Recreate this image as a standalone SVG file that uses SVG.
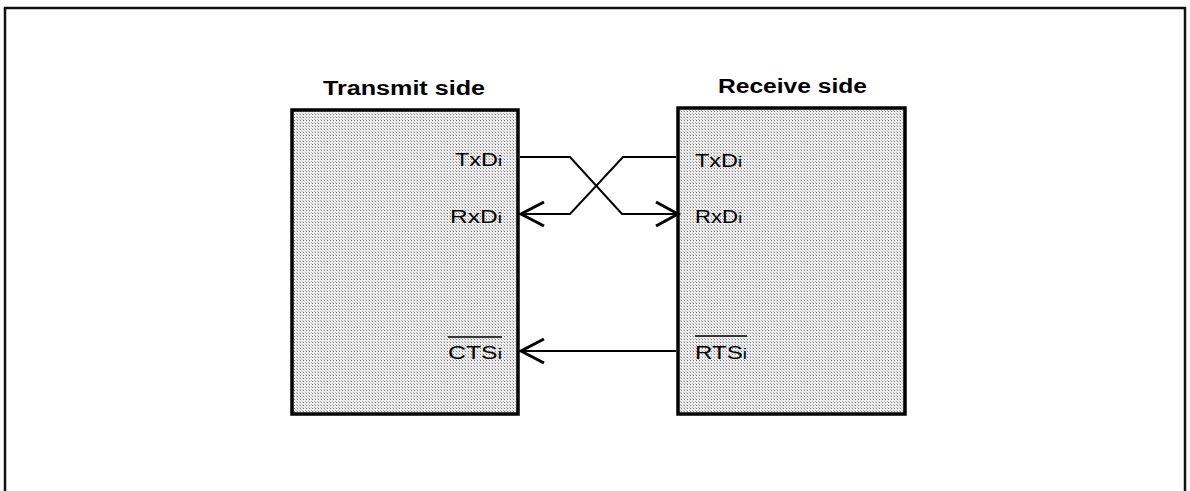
<svg xmlns="http://www.w3.org/2000/svg" width="1190" height="491" viewBox="0 0 1190 491">
<defs>
<pattern id="dots" width="3" height="3" patternUnits="userSpaceOnUse">
<rect width="3" height="3" fill="#ededed"/>
<rect x="0" y="0" width="1" height="1" fill="#7a7a7a"/>
<rect x="2" y="2" width="1" height="1" fill="#b8b8b8"/>
</pattern>
</defs>
<style>
.frame{fill:none;stroke:#111;stroke-width:2.5}
.box{fill:url(#dots);stroke:#000;stroke-width:3.5}
.title{font-family:"Liberation Sans",Arial,sans-serif;font-weight:bold;font-size:20px;fill:#000}
.lbl{font-family:"Liberation Sans",Arial,sans-serif;font-size:18px;fill:#000}
.sub{font-size:14px}
.wire{fill:none;stroke:#000;stroke-width:2}
.head{fill:none;stroke:#000;stroke-width:3;stroke-linejoin:miter}
.ovl{stroke:#000;stroke-width:1.5}
</style>
<rect class="frame" x="5" y="8" width="1180" height="500"/>
<g id="transmit">
<rect class="box" x="292" y="110" width="226" height="304"/>
<text class="title" x="323" y="95" textLength="162" lengthAdjust="spacingAndGlyphs">Transmit side</text>
<text class="lbl" x="455" y="166" textLength="47" lengthAdjust="spacingAndGlyphs">TxD<tspan class="sub">i</tspan></text>
<text class="lbl" x="450" y="223" textLength="52" lengthAdjust="spacingAndGlyphs">RxD<tspan class="sub">i</tspan></text>
<text class="lbl" x="448" y="359" textLength="54" lengthAdjust="spacingAndGlyphs">CTS<tspan class="sub">i</tspan></text>
<line class="ovl" x1="448" y1="337" x2="502" y2="337"/>
</g>
<g id="receive">
<rect class="box" x="678" y="108" width="227" height="306"/>
<text class="title" x="718" y="93" textLength="149" lengthAdjust="spacingAndGlyphs">Receive side</text>
<text class="lbl" x="695" y="167" textLength="47" lengthAdjust="spacingAndGlyphs">TxD<tspan class="sub">i</tspan></text>
<text class="lbl" x="695" y="223" textLength="47" lengthAdjust="spacingAndGlyphs">RxD<tspan class="sub">i</tspan></text>
<text class="lbl" x="695" y="359" textLength="52" lengthAdjust="spacingAndGlyphs">RTS<tspan class="sub">i</tspan></text>
<line class="ovl" x1="695" y1="336" x2="747" y2="336"/>
</g>
<g id="connectors">
<path class="wire" d="M520 157 H570 L622 214 H676"/>
<polyline class="head" points="656,202 678,214 656,226"/>
<path class="wire" d="M676 157 H623 L570 214 H522"/>
<polyline class="head" points="544,202 521,214 544,226"/>
<path class="wire" d="M676 351 H522"/>
<polyline class="head" points="544,339 521,351 544,363"/>
</g>
</svg>
